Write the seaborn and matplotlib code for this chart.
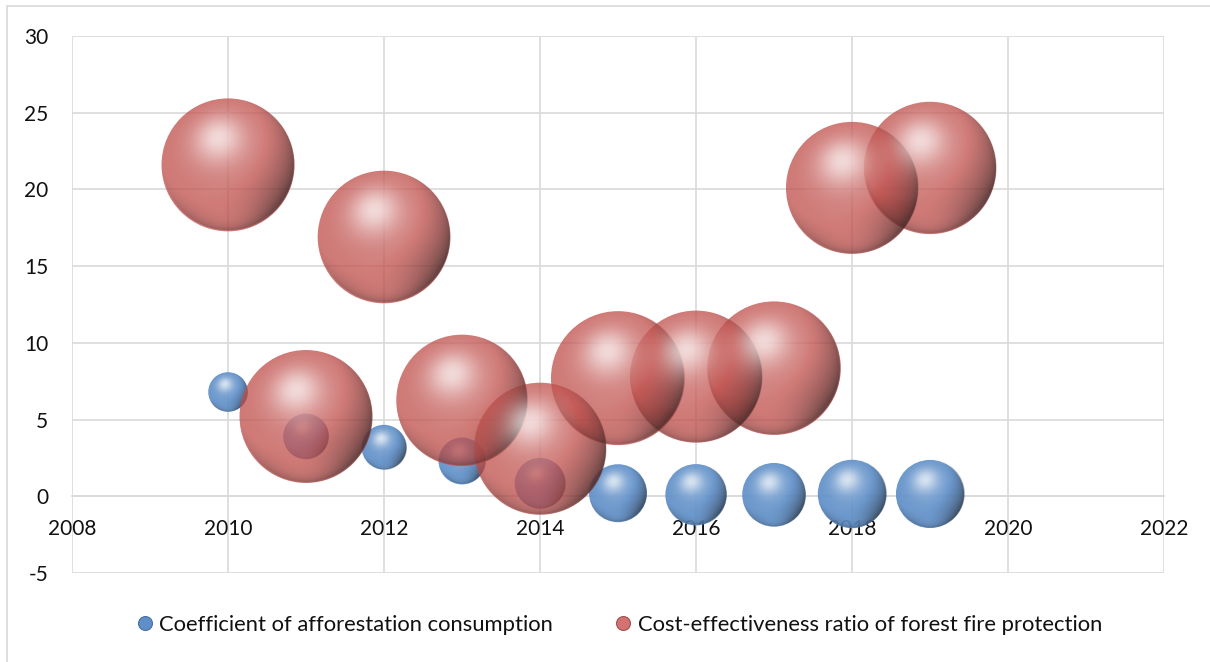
import numpy as np
import pandas as pd
import matplotlib
matplotlib.use("Agg")
import matplotlib.pyplot as plt
import seaborn as sns
from matplotlib.lines import Line2D
from matplotlib.patches import Rectangle

# data
years = [2010, 2011, 2012, 2013, 2014, 2015, 2016, 2017, 2018, 2019]
afforestation_coef = [6.8, 3.9, 3.2, 2.3, 0.85, 0.2, 0.1, 0.1, 0.15, 0.15]
afforestation_size = [0.39, 0.52, 0.50, 0.55, 0.64, 0.84, 0.94, 1.01, 1.17, 1.16]
fire_ratio = [21.6, 5.2, 16.9, 6.25, 3.1, 7.7, 7.8, 8.35, 20.1, 21.4]
fire_size = [4.42, 4.42, 4.40, 4.32, 4.36, 4.49, 4.36, 4.46, 4.36, 4.38]

series_names = ["Coefficient of afforestation consumption",
                "Cost-effectiveness ratio of forest fire protection"]
x_ticks = [2008, 2010, 2012, 2014, 2016, 2018, 2020, 2022]
y_ticks = [-5, 0, 5, 10, 15, 20, 25, 30]

BLUE = "#5f8fc8"
RED = "#c0504d"
GRID = "#d9d9d9"
TEXT = "#111111"


def sphere_overlay(res=181):
    # white / black shading layer that turns a flat disc into a lit sphere
    g = np.linspace(-1, 1, res)
    u, v = np.meshgrid(g, -g)
    rr = np.sqrt(u ** 2 + v ** 2)
    edge = np.clip((1 - rr) * res / 2.5, 0, 1)
    nz = np.sqrt(np.clip(1 - rr ** 2, 0, 1))

    h = np.array([-0.15, 0.40, 0.90]); h /= np.linalg.norm(h)
    lt = np.array([-0.45, 0.50, 0.74]); lt /= np.linalg.norm(lt)
    rf = np.array([0.10, -0.90, 0.35]); rf /= np.linalg.norm(rf)

    spec = np.clip(u * h[0] + v * h[1] + nz * h[2], 0, 1)
    diff = u * lt[0] + v * lt[1] + nz * lt[2]
    refl = np.clip(u * rf[0] + v * rf[1] + nz * rf[2], 0, 1)

    val = (0.50 * spec ** 16 + 0.22 * spec ** 5 + 0.30 * refl ** 6
           - 0.62 * np.clip(0.58 - diff, 0, 1) ** 1.3)
    img = np.zeros((res, res, 4))
    img[..., :3] = np.where(val[..., None] > 0, 1.0, 0.12)
    img[..., 3] = np.clip(np.abs(val), 0, 0.8) * edge
    return img


sns.set_theme(style="white")
plt.rcParams['font.family'] = ['Lato', 'DejaVu Sans']
plt.rcParams['axes.unicode_minus'] = False

fig = plt.figure(figsize=(12.1, 6.62), dpi=100)
ax = fig.add_axes([72 / 1210, 1 - 573 / 662, (1164 - 72) / 1210, (573 - 36) / 662])
ax.set_xlim(2008, 2022)
ax.set_ylim(-5, 30)

size_max = max(max(afforestation_size), max(fire_size))
area_max = (2 * 67 * 0.72) ** 2  # marker area (pt^2) of the biggest bubble

df_blue = pd.DataFrame({"year": years, "value": afforestation_coef, "size": afforestation_size})
df_red = pd.DataFrame({"year": years, "value": fire_ratio, "size": fire_size})

overlay = sphere_overlay()
px_x = ax.transData.transform((1, 0))[0] - ax.transData.transform((0, 0))[0]
px_y = ax.transData.transform((0, 1))[1] - ax.transData.transform((0, 0))[1]

for df, col, alpha, z in [(df_blue, BLUE, 0.92, 3), (df_red, RED, 0.76, 5)]:
    sns.scatterplot(data=df, x="year", y="value", size="size",
                    sizes=(0, area_max), size_norm=(0, size_max),
                    color=col, alpha=alpha, linewidth=0, legend=False,
                    ax=ax, zorder=z)
    coll = ax.collections[-1]
    for (x, y), s in zip(coll.get_offsets(), coll.get_sizes()):
        r_px = np.sqrt(s) / 2 * fig.dpi / 72
        rx, ry = r_px / px_x, r_px / px_y
        ax.imshow(overlay, extent=[x - rx, x + rx, y - ry, y + ry],
                  aspect="auto", interpolation="bilinear", zorder=z + 0.5)

ax.set_xlim(2008, 2022)
ax.set_ylim(-5, 30)
ax.set_xticks(x_ticks)
ax.set_yticks(y_ticks)
ax.set_xlabel("")
ax.set_ylabel("")
ax.grid(True, color=GRID, linewidth=1.2)
ax.set_axisbelow(True)
for side in ["top", "right", "left"]:
    ax.spines[side].set_visible(False)
ax.spines["bottom"].set_position(("data", 0))
ax.spines["bottom"].set_color(GRID)
ax.spines["bottom"].set_linewidth(1.2)
ax.tick_params(axis="x", length=0, pad=16, labelsize=15, labelcolor=TEXT)
ax.tick_params(axis="y", length=0, pad=17, labelsize=15, labelcolor=TEXT)

handles = [Line2D([], [], marker="o", linestyle="", markersize=10,
                  markerfacecolor=c, markeredgecolor=e, markeredgewidth=0.8)
           for c, e in [(BLUE, "#4a6f9c"), ("#d27371", "#9c5050")]]
ax.legend(handles, series_names, loc="center", bbox_to_anchor=(0.5, -0.097),
          ncol=2, frameon=False, fontsize=15.8, handlelength=1.0,
          handletextpad=0.15, columnspacing=2.7, labelcolor=TEXT)

fig.add_artist(Rectangle((7 / 1210, -0.1), 1.2, 1.1 - 6 / 662, transform=fig.transFigure,
                         fill=False, edgecolor=GRID, linewidth=1.2, clip_on=False))

fig.savefig("out.png", dpi=100)
